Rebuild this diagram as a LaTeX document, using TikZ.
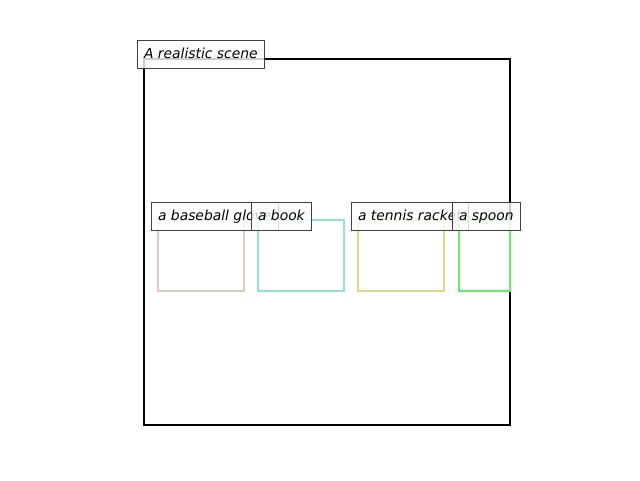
\documentclass[tikz,border=0pt]{standalone}
\usepackage{fontspec}
\setmainfont{DejaVu Sans}
\usepackage{tikz}
\usetikzlibrary{positioning}
\definecolor{glovecol}{RGB}{224,200,195}
\definecolor{bookcol}{RGB}{150,228,200}
\definecolor{racketcol}{RGB}{224,214,140}
\definecolor{spooncol}{RGB}{100,238,110}
\tikzset{
  objbox/.style={line width=1.5pt},
  tag/.style={draw=black!75, fill=white, fill opacity=0.8, text opacity=1,
    anchor=west, inner xsep=5.1pt, inner ysep=0pt, minimum height=21pt,
    text height=8.4pt, text depth=1.2pt,
    font=\itshape\fontsize{10.4}{12}\selectfont}
}

\begin{document}
\begin{tikzpicture}[x=0.75pt, y=-0.75pt]
\useasboundingbox (0,0) rectangle (640,480);
% scene frame
\draw[line width=1.5pt] (144,59) rectangle (510,425);
\node[tag] (scene) at (137,54) {A realistic scene};

% objects
\draw[objbox, glovecol] (158,220) rectangle (244,291);
\node[tag] (glove) at (151,216) {a baseball glove};
\draw[objbox, bookcol] (258,220) rectangle (344,291);
\node[tag] (book) at (251,216) {a book};
\draw[objbox, racketcol] (358,220) rectangle (444,291);
\node[tag] (racket) at (351,216) {a tennis racket};
\draw[objbox, spooncol] (459,220) rectangle (510,291);
\node[tag] (spoon) at (452,216) {a spoon};
\end{tikzpicture}
\end{document}
